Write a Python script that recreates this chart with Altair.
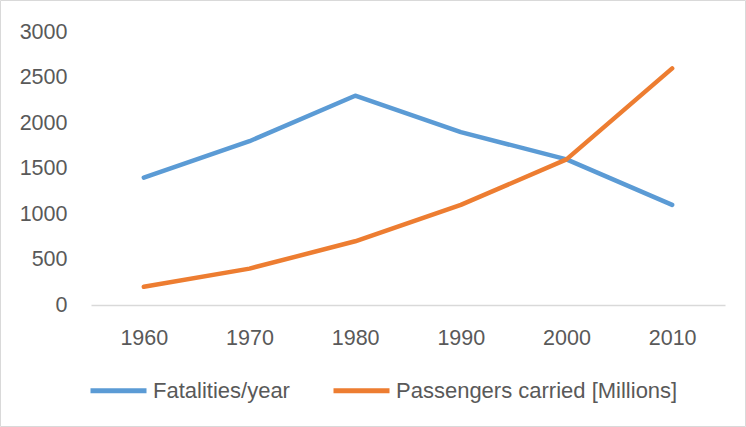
import altair as alt
import pandas as pd

years = ["1960", "1970", "1980", "1990", "2000", "2010"]
fatalities = [1400, 1800, 2300, 1900, 1600, 1100]
passengers = [200, 400, 700, 1100, 1600, 2600]
series_names = ["Fatalities/year", "Passengers carried [Millions]"]
series_colors = ["#5B9BD5", "#ED7D31"]

rows = []
for name, values in zip(series_names, [fatalities, passengers]):
    for yr, v in zip(years, values):
        rows.append({"Year": yr, "Value": v, "Series": name})
df = pd.DataFrame(rows)

FONT = "Liberation Sans"
TEXT = "#595959"

lines = alt.Chart(df).mark_line(strokeWidth=4.5, strokeCap="round", strokeJoin="round").encode(
    x=alt.X("Year:O", sort=years,
            scale=alt.Scale(type="point", padding=0.5),
            axis=alt.Axis(title=None, labelAngle=0, ticks=False, domainColor="#D9D9D9",
                          domainWidth=1.5, labelPadding=22, labelFontSize=21.5,
                          labelColor=TEXT, labelFont=FONT)),
    y=alt.Y("Value:Q",
            scale=alt.Scale(domain=[0, 3000], nice=False),
            axis=alt.Axis(title=None, values=[0, 500, 1000, 1500, 2000, 2500, 3000],
                          format="d", grid=False, domain=False, ticks=False, labelPadding=24,
                          labelFontSize=21.5, labelColor=TEXT, labelFont=FONT)),
    color=alt.Color("Series:N", sort=series_names,
                    scale=alt.Scale(domain=series_names, range=series_colors),
                    legend=alt.Legend(title=None, orient="none", direction="horizontal",
                                      legendX=-3, legendY=328, symbolType="stroke",
                                      symbolSize=3136, symbolStrokeWidth=5,
                                      labelFontSize=22, labelColor=TEXT, labelFont=FONT,
                                      labelLimit=0, labelOffset=4, columnPadding=33)),
)

# light frame around the whole chart
frame = alt.Chart(pd.DataFrame({"a": [0]})).mark_rect(
    fill=None, stroke="#D9D9D9", strokeWidth=1
).encode(
    x=alt.value(-90.5), x2=alt.value(654.5), y=alt.value(-31.5), y2=alt.value(394.5)
)

chart = alt.layer(frame, lines).properties(
    width=634, height=273,
    padding={"left": 91, "top": 32, "right": 21, "bottom": 122},
    autosize=alt.AutoSizeParams(type="none"),
    background="white",
).configure_view(stroke=None)

chart.save("out.html", embed_options={"renderer": "svg", "actions": False})
